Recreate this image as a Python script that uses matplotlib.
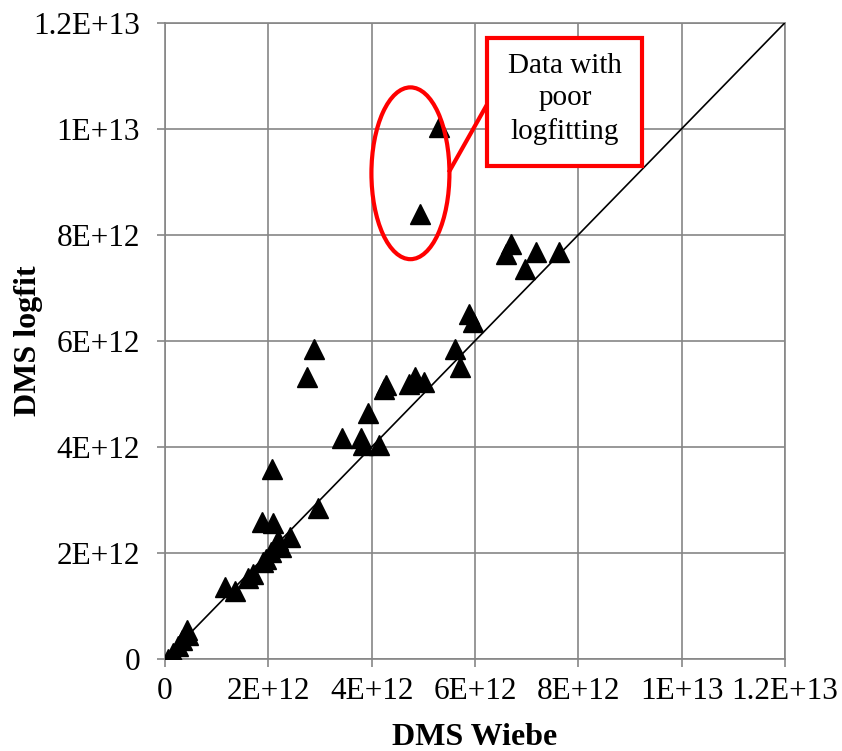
import matplotlib
matplotlib.use('Agg')
import matplotlib.pyplot as plt
from matplotlib.patches import Ellipse, Rectangle
from matplotlib.ticker import FixedLocator, FixedFormatter

# DMS values (units of 1E12) from the Wiebe method and from the log fit
dms_wiebe = [5.31, 4.94, 6.70, 6.60, 7.18, 6.96, 7.62, 5.89, 5.96, 5.62,
             5.71, 2.88, 2.75, 4.28, 4.23, 4.83, 4.73, 5.02, 3.92, 3.43,
             3.80, 3.83, 4.14, 2.08, 2.96, 1.87, 2.09, 2.42, 2.19, 2.25,
             2.06, 1.96, 1.90, 1.71, 1.61, 1.16, 1.35, 0.42, 0.32, 0.44,
             0.16, 0.06, 0.25]
dms_logfit = [10.03, 8.40, 7.83, 7.64, 7.67, 7.36, 7.67, 6.51, 6.35, 5.85,
              5.51, 5.85, 5.32, 5.16, 5.10, 5.32, 5.19, 5.22, 4.63, 4.16,
              4.16, 4.03, 4.03, 3.59, 2.84, 2.59, 2.56, 2.30, 2.24, 2.12,
              2.02, 1.88, 1.83, 1.61, 1.52, 1.36, 1.28, 0.55, 0.36, 0.45,
              0.11, 0.00, 0.25]

tick_values = [0, 2e12, 4e12, 6e12, 8e12, 1e13, 1.2e13]
tick_labels = ['0', '2E+12', '4E+12', '6E+12', '8E+12', '1E+13', '1.2E+13']

SCALE = 1e12
GRID = '#868686'

plt.rcParams['font.family'] = ['Liberation Serif', 'DejaVu Serif']

fig = plt.figure(figsize=(8.42, 7.51), dpi=100)
ax = fig.add_axes([0.196, 0.1225, 0.7363, 0.8473])

x = [v * SCALE for v in dms_wiebe]
y = [v * SCALE for v in dms_logfit]

# 1:1 line
ax.plot([0, 1.2e13], [0, 1.2e13], color='black', lw=1.2, zorder=3)
ax.plot(x, y, linestyle='none', marker='^', markersize=14.5,
        color='black', zorder=4)

ax.set_xlim(0, 1.2e13)
ax.set_ylim(0, 1.2e13)
for axis in (ax.xaxis, ax.yaxis):
    axis.set_major_locator(FixedLocator(tick_values))
    axis.set_major_formatter(FixedFormatter(tick_labels))

ax.grid(True, color=GRID, lw=1.2, zorder=0)
ax.set_axisbelow(True)
for sp in ax.spines.values():
    sp.set_color(GRID)
    sp.set_linewidth(1.2)
ax.tick_params(axis='both', direction='out', length=6, width=1.2,
               color=GRID, labelsize=22.5, labelcolor='black')
ax.tick_params(axis='y', pad=12)
ax.tick_params(axis='x', pad=7)

ax.set_xlabel('DMS Wiebe', fontsize=23, fontweight='bold', va='center')
ax.set_ylabel('DMS logfit', fontsize=23, fontweight='bold', va='center')
ax.xaxis.set_label_coords(0.5, -0.1226)
ax.yaxis.set_label_coords(-0.221, 0.5)

# callout for the badly fitted points
ell = Ellipse((4.75e12, 9.16e12), 1.51e12, 3.24e12, fill=False,
              edgecolor='red', lw=3, zorder=5)
ax.add_patch(ell)
ax.plot([5.51e12, 6.24e12], [9.21e12, 10.47e12], color='red', lw=3, zorder=5)
box = Rectangle((6.24e12, 9.29e12), 3.0e12, 2.42e12, facecolor='white',
                edgecolor='red', lw=3, zorder=6)
ax.add_patch(box)
ax.text(7.74e12, 10.56e12, 'Data with\npoor\nlogfitting', ha='center',
        va='center', fontsize=21, linespacing=1.32, zorder=7)

plt.savefig('out.png', dpi=100)
plt.close()
